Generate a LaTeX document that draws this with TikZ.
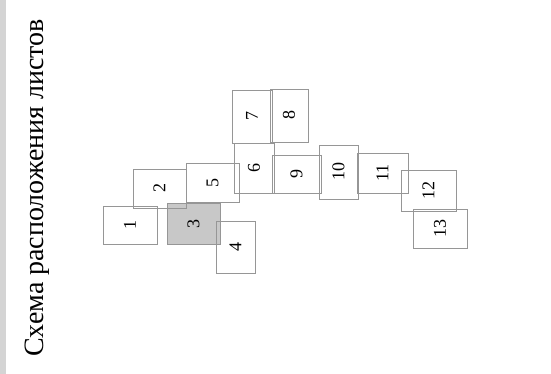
\documentclass[tikz,border=0pt]{standalone}
\usepackage{fontspec}
\setmainfont{Liberation Serif}
\usetikzlibrary{positioning}
\definecolor{SheetLine}{RGB}{150,150,150}
\definecolor{SheetShade}{RGB}{200,200,200}
\definecolor{BarGray}{RGB}{212,212,212}
\tikzset{
  sheet/.style={draw=SheetLine,line width=0.8pt,inner sep=0pt,font=\fontsize{18}{18}\selectfont},
  shaded/.style={sheet,fill=SheetShade},
  title/.style={rotate=90,anchor=base,inner sep=0pt,font=\fontsize{28}{30}\selectfont},
}
\newcommand{\num}[1]{\rotatebox{90}{#1}}
\begin{document}
\begin{tikzpicture}[x=1pt,y=-1pt]
\useasboundingbox (0,0) rectangle (551,374);
\fill[BarGray] (0,0) rectangle (6,374);
\node[title] (head) at (43,188) {Схема расположения листов};
% sheets
\node[shaded,minimum width=53pt,minimum height=41pt] (s3) at (193.5,223.5) {\num{3}};
\node[sheet,minimum width=54pt,minimum height=38pt] (s1) at (130,225) {\num{1}};
\node[sheet,minimum width=53pt,minimum height=39pt] (s2) at (159.5,188.5) {\num{2}};
\node[sheet,minimum width=39pt,minimum height=52pt] (s4) at (235.5,247) {\num{4}};
\node[sheet,minimum width=53pt,minimum height=39pt] (s5) at (212.5,182.5) {\num{5}};
\node[sheet,minimum width=40pt,minimum height=50pt] (s6) at (254,168) {\num{6}};
\node[sheet,minimum width=40pt,minimum height=53pt] (s7) at (252,116.5) {\num{7}};
\node[sheet,minimum width=38pt,minimum height=53pt] (s8) at (289,115.5) {\num{8}};
\node[sheet,minimum width=49pt,minimum height=38pt] (s9) at (296.5,174) {\num{9}};
\node[sheet,minimum width=39pt,minimum height=54pt] (s10) at (338.5,172) {\num{10}};
\node[sheet,minimum width=51pt,minimum height=40pt] (s11) at (382.5,173) {\num{11}};
\node[sheet,minimum width=55pt,minimum height=41pt] (s12) at (428.5,190.5) {\num{12}};
\node[sheet,minimum width=54pt,minimum height=39pt] (s13) at (440,228.5) {\num{13}};
\end{tikzpicture}
\end{document}
